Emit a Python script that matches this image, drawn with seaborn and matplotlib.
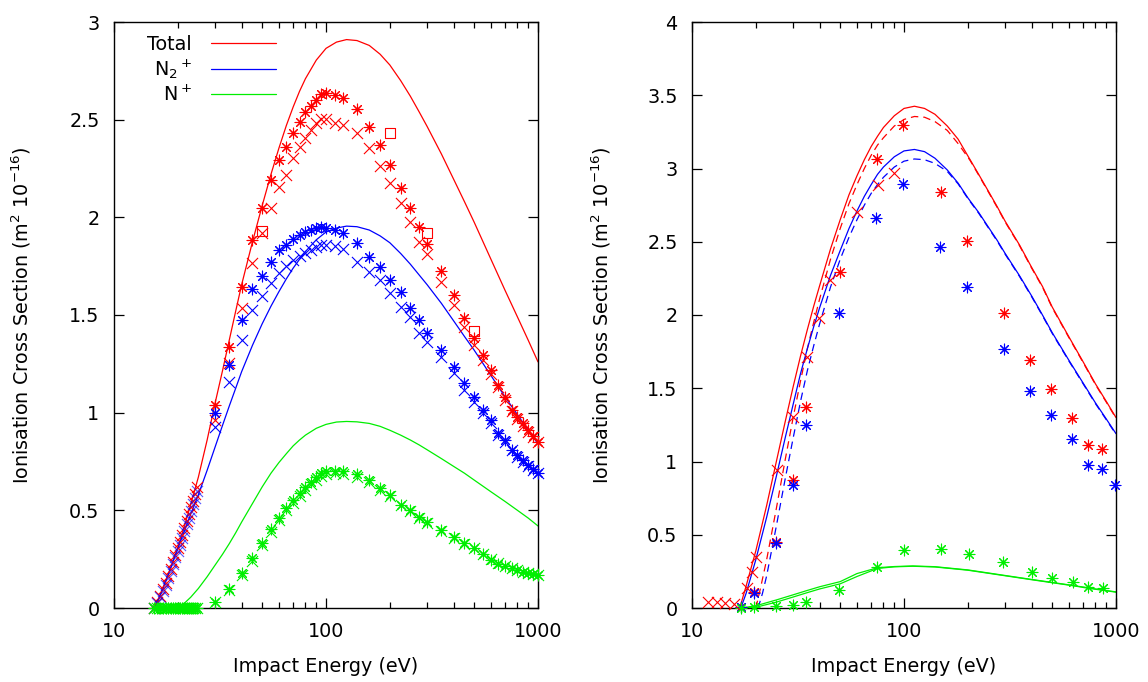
import matplotlib
matplotlib.use("Agg")
import matplotlib.pyplot as plt
from matplotlib.lines import Line2D
from matplotlib.ticker import FixedLocator, LogLocator, NullFormatter, FuncFormatter, MultipleLocator
import seaborn as sns

# ---------------------------------------------------------------- left panel
# theory curves (eV, 1e-16 m^2)
theory_E_left = [15.6, 16.5, 17.5, 18.5, 20, 21.5, 23, 25, 27.5, 30, 32.5, 35, 37.5, 40, 45, 50,
                 55, 60, 65, 70, 75, 80, 90, 100, 112, 125, 140, 160, 180, 200, 225, 250, 275,
                 300, 350, 400, 450, 500, 600, 700, 800, 900, 1000]
theory_total_left = [0, 0.065, 0.135, 0.205, 0.31, 0.42, 0.53, 0.67, 0.86, 1.05, 1.215, 1.373,
                     1.52, 1.655, 1.875, 2.06, 2.22, 2.355, 2.47, 2.565, 2.645, 2.71, 2.805,
                     2.865, 2.897, 2.91, 2.905, 2.88, 2.835, 2.78, 2.70, 2.62, 2.54, 2.465,
                     2.325, 2.195, 2.08, 1.975, 1.785, 1.625, 1.49, 1.37, 1.26]
theory_n2_left = [0, 0.065, 0.135, 0.205, 0.306, 0.395, 0.48, 0.58, 0.705, 0.825, 0.935, 1.035,
                  1.125, 1.21, 1.345, 1.455, 1.545, 1.62, 1.685, 1.74, 1.785, 1.825, 1.885,
                  1.925, 1.945, 1.955, 1.952, 1.935, 1.905, 1.87, 1.815, 1.76, 1.705, 1.655,
                  1.56, 1.47, 1.39, 1.32, 1.19, 1.08, 0.99, 0.91, 0.84]
theory_n_E_left = [19.6, 20, 21.5, 23, 25, 27.5, 30, 32.5, 35, 37.5, 40, 45, 50, 55, 60, 65, 70,
                   75, 80, 90, 100, 112, 125, 140, 160, 180, 200, 225, 250, 275, 300, 350, 400,
                   450, 500, 600, 700, 800, 900, 1000]
theory_n_left = [0, 0.004, 0.025, 0.055, 0.10, 0.16, 0.22, 0.275, 0.33, 0.385, 0.44, 0.535, 0.62,
                 0.69, 0.745, 0.79, 0.83, 0.86, 0.885, 0.92, 0.94, 0.952, 0.955, 0.953, 0.945,
                 0.93, 0.91, 0.885, 0.86, 0.835, 0.81, 0.765, 0.725, 0.69, 0.655, 0.595, 0.545,
                 0.50, 0.46, 0.42]

# measurements, 30 eV - 1 keV
meas_E = [30, 35, 40, 45, 50, 55, 60, 65, 70, 75, 80, 85, 90, 95, 100, 110, 120, 140, 160, 180,
          200, 225, 250, 275, 300, 350, 400, 450, 500, 550, 600, 650, 700, 750, 800, 850, 900,
          950, 1000]
total_set_a = [1.039, 1.338, 1.645, 1.884, 2.047, 2.19, 2.294, 2.36, 2.434, 2.49, 2.541, 2.57,
               2.60, 2.632, 2.635, 2.627, 2.61, 2.553, 2.461, 2.371, 2.268, 2.149, 2.047, 1.952,
               1.864, 1.727, 1.603, 1.483, 1.381, 1.295, 1.219, 1.142, 1.082, 1.014, 0.98,
               0.946, 0.91, 0.88, 0.85]
total_set_b = [0.963, 1.253, 1.534, 1.765, 1.92, 2.05, 2.157, 2.217, 2.303, 2.362, 2.405, 2.448,
               2.482, 2.502, 2.502, 2.482, 2.473, 2.43, 2.354, 2.263, 2.178, 2.072, 1.978, 1.876,
               1.812, 1.671, 1.551, 1.44, 1.347, 1.27, 1.20, 1.13, 1.065, 1.01, 0.97, 0.93,
               0.90, 0.875, 0.85]
n2_set_a = [0.997, 1.244, 1.475, 1.632, 1.70, 1.773, 1.833, 1.859, 1.888, 1.91, 1.927, 1.935,
            1.947, 1.952, 1.944, 1.935, 1.918, 1.867, 1.799, 1.748, 1.679, 1.62, 1.535, 1.475,
            1.41, 1.321, 1.236, 1.151, 1.082, 1.014, 0.963, 0.895, 0.86, 0.809, 0.783, 0.758,
            0.732, 0.71, 0.69]
n2_set_b = [0.928, 1.159, 1.372, 1.526, 1.598, 1.662, 1.714, 1.751, 1.782, 1.802, 1.819, 1.833,
            1.85, 1.859, 1.857, 1.852, 1.84, 1.773, 1.722, 1.679, 1.611, 1.543, 1.488, 1.407,
            1.364, 1.287, 1.202, 1.116, 1.056, 0.997, 0.946, 0.888, 0.85, 0.81, 0.775, 0.75,
            0.725, 0.705, 0.69]
n_set_a = [0.032, 0.096, 0.181, 0.254, 0.331, 0.403, 0.462, 0.51, 0.553, 0.587, 0.618, 0.647,
           0.672, 0.693, 0.701, 0.703, 0.703, 0.684, 0.655, 0.613, 0.579, 0.527, 0.502, 0.467,
           0.442, 0.399, 0.362, 0.331, 0.306, 0.276, 0.246, 0.225, 0.215, 0.203, 0.195, 0.186,
           0.178, 0.172, 0.169]
n_set_b = [0.03, 0.09, 0.17, 0.24, 0.32, 0.39, 0.45, 0.50, 0.54, 0.575, 0.605, 0.635, 0.655,
           0.675, 0.685, 0.69, 0.685, 0.67, 0.645, 0.605, 0.575, 0.525, 0.495, 0.46, 0.435,
           0.395, 0.36, 0.33, 0.305, 0.275, 0.25, 0.23, 0.215, 0.205, 0.195, 0.185, 0.178,
           0.172, 0.168]
total_sq_E = [50, 200, 300, 500]
total_sq = [1.93, 2.43, 1.92, 1.42]

# near-threshold measurements
thr_E = [15.5, 16, 16.5, 17, 17.5, 18, 18.5, 19, 19.5, 20, 20.5, 21, 21.5, 22, 22.5, 23, 23.5,
         24, 24.5]
thr_total = [0.0, 0.03, 0.06, 0.095, 0.13, 0.165, 0.20, 0.235, 0.27, 0.305, 0.34, 0.375, 0.41,
             0.445, 0.48, 0.515, 0.55, 0.585, 0.62]
thr_n2 = [0.0, 0.025, 0.055, 0.085, 0.12, 0.155, 0.19, 0.225, 0.26, 0.29, 0.325, 0.36, 0.395,
          0.43, 0.46, 0.495, 0.53, 0.565, 0.60]
thr_n = [0.0] * 19

# --------------------------------------------------------------- right panel
r_total_E = [16.8, 18, 20, 22.5, 25, 27.5, 30, 32.5, 35, 37.5, 40, 45, 50, 55, 60, 65, 70, 75,
             80, 90, 100, 112, 125, 140, 160, 180, 205, 225, 250, 275, 300, 350, 400, 450, 500,
             600, 700, 800, 900, 1000]
r_total = [0, 0.15, 0.39, 0.70, 1.00, 1.27, 1.51, 1.72, 1.90, 2.06, 2.20, 2.45, 2.65, 2.82,
           2.95, 3.06, 3.15, 3.22, 3.28, 3.36, 3.41, 3.425, 3.41, 3.37, 3.29, 3.20, 3.06, 2.96,
           2.845, 2.74, 2.64, 2.48, 2.325, 2.195, 2.055, 1.85, 1.68, 1.53, 1.41, 1.30]
r_total2_E = [20, 21, 22.5, 25, 27.5, 30, 32.5, 35, 37.5, 40, 45, 50, 55, 60, 65, 70, 75, 80, 90,
              100, 112, 125, 140, 160, 180, 205, 225, 250, 275, 300, 350, 400, 450, 500, 600,
              700, 800, 900, 1000]
r_total2 = [0, 0.13, 0.33, 0.68, 1.01, 1.30, 1.55, 1.77, 1.95, 2.11, 2.38, 2.59, 2.76, 2.89,
            3.00, 3.09, 3.16, 3.21, 3.29, 3.335, 3.355, 3.35, 3.32, 3.26, 3.17, 3.055, 2.955,
            2.84, 2.735, 2.635, 2.475, 2.32, 2.19, 2.05, 1.845, 1.675, 1.525, 1.405, 1.295]
r_n2_E = [17, 18, 20, 22.5, 25, 27.5, 30, 32.5, 35, 37.5, 40, 45, 50, 55, 60, 65, 70, 75, 80,
          90, 100, 112, 125, 140, 160, 180, 200, 225, 250, 275, 300, 350, 400, 450, 500, 600,
          700, 800, 900, 1000]
r_n2 = [0, 0.10, 0.33, 0.62, 0.90, 1.16, 1.39, 1.60, 1.77, 1.92, 2.05, 2.27, 2.44, 2.59, 2.71,
        2.81, 2.89, 2.96, 3.01, 3.08, 3.12, 3.13, 3.115, 3.07, 2.99, 2.90, 2.80, 2.70, 2.60,
        2.51, 2.42, 2.27, 2.13, 2.00, 1.88, 1.69, 1.535, 1.40, 1.29, 1.19]
r_n2b_E = [20.5, 21.5, 22.5, 25, 27.5, 30, 32.5, 35, 37.5, 40, 45, 50, 55, 60, 65, 70, 75, 80,
           90, 100, 112, 125, 140, 160, 180, 200, 225, 250, 275, 300, 350, 400, 450, 500, 600,
           700, 800, 900, 1000]
r_n2b = [0, 0.10, 0.22, 0.56, 0.88, 1.16, 1.41, 1.62, 1.79, 1.94, 2.19, 2.38, 2.53, 2.65, 2.75,
         2.83, 2.89, 2.94, 3.01, 3.05, 3.065, 3.06, 3.035, 2.98, 2.895, 2.795, 2.695, 2.595,
         2.505, 2.415, 2.265, 2.125, 1.995, 1.875, 1.685, 1.53, 1.395, 1.285, 1.185]
r_n_E = [17, 20, 25, 30, 35, 40, 50, 60, 75, 90, 110, 140, 200, 300, 400, 600, 800, 1000]
r_n = [0, 0.015, 0.055, 0.09, 0.12, 0.145, 0.18, 0.235, 0.275, 0.283, 0.287, 0.282, 0.26, 0.222,
       0.195, 0.158, 0.13, 0.11]
r_nb_E = [17.5, 20, 25, 30, 35, 40, 50, 60, 75, 90, 110, 140, 200, 300, 400, 600, 800, 1000]
r_nb = [0, 0.005, 0.04, 0.075, 0.105, 0.13, 0.165, 0.215, 0.27, 0.281, 0.285, 0.28, 0.258, 0.22,
        0.193, 0.156, 0.128, 0.108]

r_total_pts_E = [17.1, 19.6, 24.9, 30.1, 34.5, 49.9, 74.2, 98.5, 149, 199, 296, 394, 494, 618,
                 740, 862]
r_total_pts = [0.01, 0.111, 0.453, 0.874, 1.374, 2.296, 3.063, 3.297, 2.838, 2.505, 2.016,
               1.691, 1.495, 1.299, 1.113, 1.083]
r_n2_pts_E = [17.1, 19.6, 24.9, 30.1, 34.5, 49.6, 73.9, 98.5, 148.6, 199, 296, 394, 494, 618,
              740, 862, 988]
r_n2_pts = [0.01, 0.104, 0.446, 0.84, 1.249, 2.016, 2.66, 2.892, 2.466, 2.193, 1.768, 1.483,
            1.317, 1.151, 0.976, 0.947, 0.84]
r_n_pts_E = [17.1, 19.6, 24.9, 30.1, 34.5, 49.6, 74.2, 100, 149, 202, 294, 400, 500, 630, 740,
             870]
r_n_pts = [0.0, 0.01, 0.014, 0.02, 0.039, 0.123, 0.278, 0.396, 0.40, 0.366, 0.312, 0.248, 0.207,
           0.175, 0.141, 0.137]
r_total_x_E = [11.9, 13.1, 14.3, 15.7, 18.1, 19.1, 20.0, 25.1, 30.1, 34.8, 39.9, 44.9, 59.8, 75,
               89.8]
r_total_x = [0.043, 0.043, 0.036, 0.027, 0.134, 0.248, 0.35, 0.942, 1.306, 1.716, 1.977, 2.239,
             2.705, 2.887, 2.967]

x_ticks = [10, 100, 1000]
legend_labels = ["Total", r"N$_2$$^+$", r"N$^+$"]
x_title = "Impact Energy (eV)"
y_title = r"Ionisation Cross Section (m$^2$ 10$^{-16}$)"

RED, BLUE, GREEN = "#ff0000", "#0000ff", "#00ee00"
FS = 13.8
ASTERISK = (8, 2, 0)

sns.set_theme(style="ticks")
plt.rcParams["font.family"] = ["DejaVu Sans"]
plt.rcParams["mathtext.fontset"] = "dejavusans"
for key in ("text.color", "axes.labelcolor", "xtick.color", "ytick.color", "axes.edgecolor"):
    plt.rcParams[key] = "black"


def curve(ax, x, y, color, ls="-"):
    sns.lineplot(x=x, y=y, ax=ax, color=color, linewidth=0.9, linestyle=ls,
                 sort=False, estimator=None, zorder=2)


def points(ax, x, y, color, marker, size, **kw):
    sns.scatterplot(x=x, y=y, ax=ax, color=color, marker=marker, s=size, linewidth=0.8,
                    clip_on=False, zorder=3, legend=False, **kw)


def style_axes(ax, ymax):
    ax.set_xscale("log")
    ax.set_xlim(10, 1000)
    ax.set_ylim(0, ymax)
    ax.xaxis.set_major_locator(FixedLocator(x_ticks))
    ax.xaxis.set_major_formatter(FuncFormatter(lambda v, p: f"{v:g}"))
    ax.xaxis.set_minor_locator(LogLocator(base=10, subs=range(2, 10)))
    ax.xaxis.set_minor_formatter(NullFormatter())
    ax.yaxis.set_major_locator(MultipleLocator(0.5))
    ax.yaxis.set_major_formatter(FuncFormatter(lambda v, p: f"{v:g}"))
    ax.tick_params(which="both", direction="in", top=True, right=True, color="black",
                   width=0.9)
    ax.tick_params(which="major", length=7)
    ax.tick_params(which="minor", length=4)
    ax.tick_params(axis="x", pad=10, labelsize=FS, labelcolor="black")
    ax.tick_params(axis="y", pad=10.5, labelsize=FS, labelcolor="black")
    for sp in ax.spines.values():
        sp.set_color("black")
        sp.set_linewidth(1.0)
    ax.set_xlabel(x_title, fontsize=FS, color="black")
    ax.set_ylabel(y_title, fontsize=FS, color="black")
    ax.xaxis.set_label_coords(0.5, -0.083)
    ax.set_facecolor("white")


fig = plt.figure(figsize=(11.48, 6.82), dpi=100)
fig.patch.set_facecolor("white")
axL = fig.add_axes([114 / 1148, 74 / 682, 424 / 1148, 586 / 682])
axR = fig.add_axes([692 / 1148, 74 / 682, 424 / 1148, 586 / 682])

# left: N2 ionisation, experiment vs theory
curve(axL, theory_E_left, theory_total_left, RED)
curve(axL, theory_E_left, theory_n2_left, BLUE)
curve(axL, theory_n_E_left, theory_n_left, GREEN)

points(axL, meas_E, total_set_a, RED, ASTERISK, 60)
points(axL, meas_E, total_set_b, RED, "x", 64)
points(axL, total_sq_E, total_sq, RED, "s", 50, facecolor="none", edgecolor=RED)
points(axL, meas_E, n2_set_a, BLUE, ASTERISK, 60)
points(axL, meas_E, n2_set_b, BLUE, "x", 64)
points(axL, meas_E, n_set_a, GREEN, ASTERISK, 60)
points(axL, meas_E, n_set_b, GREEN, "x", 64)
points(axL, thr_E, thr_total, RED, "x", 64)
points(axL, thr_E, thr_n2, BLUE, "x", 64, alpha=0.65)
points(axL, thr_E, thr_n, GREEN, "x", 64)
points(axL, thr_E, thr_n, GREEN, ASTERISK, 60)

handles = [Line2D([], [], color=c, linewidth=0.9) for c in (RED, BLUE, GREEN)]
axL.legend(handles, legend_labels, loc="upper left", bbox_to_anchor=(0.079, 0.978),
           frameon=False, markerfirst=False, handlelength=3.4, handletextpad=0.96,
           labelspacing=0.2, borderpad=0, borderaxespad=0, fontsize=FS)
style_axes(axL, 3)
axL.yaxis.set_label_coords(-0.191, 0.5)

# right: second data set with two theory variants
curve(axR, r_total_E, r_total, RED)
curve(axR, r_total2_E, r_total2, RED, ls=(0, (6, 4)))
curve(axR, r_n2_E, r_n2, BLUE)
curve(axR, r_n2b_E, r_n2b, BLUE, ls=(0, (6, 4)))
curve(axR, r_n_E, r_n, GREEN)
curve(axR, r_nb_E, r_nb, GREEN)

points(axR, r_total_pts_E, r_total_pts, RED, ASTERISK, 60)
points(axR, r_n2_pts_E, r_n2_pts, BLUE, ASTERISK, 60)
points(axR, r_n_pts_E, r_n_pts, GREEN, ASTERISK, 60)
points(axR, r_total_x_E, r_total_x, RED, "x", 64)
style_axes(axR, 4)
axR.yaxis.set_label_coords(-0.186, 0.5)

fig.savefig("out.png", dpi=100)
